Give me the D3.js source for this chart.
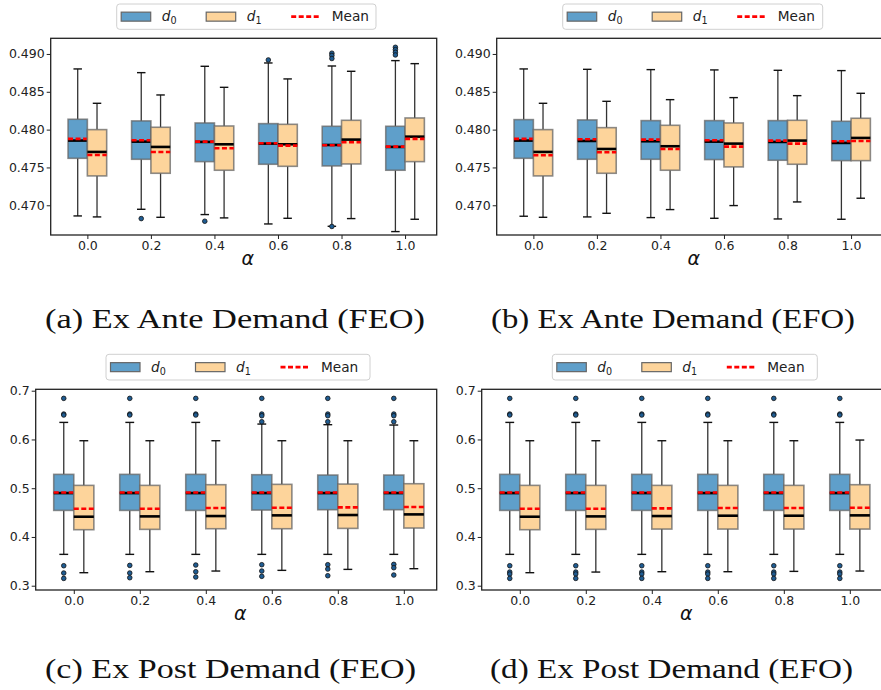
<!DOCTYPE html>
<html>
<head>
<meta charset="utf-8">
<script src="https://cdn.jsdelivr.net/npm/d3@7"></script>
<style>
  html, body { margin: 0; padding: 0; background: #fff; }
  svg { display: block; }
</style>
</head>
<body>
<svg id="chart" width="881" height="690"></svg>
<script>
// ---------------- DATA ----------------
const alphas = [0.0, 0.2, 0.4, 0.6, 0.8, 1.0];
const xTickLabels = ["0.0", "0.2", "0.4", "0.6", "0.8", "1.0"];
const yTicksAnte = [0.470, 0.475, 0.480, 0.485, 0.490];
const yTicksPost = [0.3, 0.4, 0.5, 0.6, 0.7];
const seriesNames = ["d0", "d1"];
const captions = ["(a) Ex Ante Demand (FEO)", "(b) Ex Ante Demand (EFO)",
                  "(c) Ex Post Demand (FEO)", "(d) Ex Post Demand (EFO)"];

// Panel (a) Ex Ante FEO
const aD0WhiskerHi = [0.48802, 0.48753, 0.48837, 0.48881, 0.48841, 0.48912];
const aD0Q3        = [0.48137, 0.48115, 0.48088, 0.48079, 0.48044, 0.48044];
const aD0Median    = [0.47855, 0.47841, 0.47837, 0.47815, 0.47797, 0.47771];
const aD0Mean      = [0.47877, 0.47859, 0.47841, 0.47819, 0.47793, 0.47775];
const aD0Q1        = [0.47621, 0.47608, 0.47577, 0.47542, 0.47520, 0.47463];
const aD0WhiskerLo = [0.46859, 0.46947, 0.46877, 0.46753, 0.46722, 0.46652];
const aD0Outliers  = [[], [0.46824], [0.46789], [0.48921], [0.49010, 0.48980, 0.48940, 0.46720], [0.49088, 0.49057, 0.49022, 0.48987]];
const aD1WhiskerHi = [0.48348, 0.48458, 0.48559, 0.48670, 0.48771, 0.48872];
const aD1Q3        = [0.48000, 0.48031, 0.48048, 0.48070, 0.48123, 0.48154];
const aD1Median    = [0.47705, 0.47771, 0.47806, 0.47806, 0.47868, 0.47907];
const aD1Mean      = [0.47665, 0.47705, 0.47753, 0.47789, 0.47833, 0.47877];
const aD1Q1        = [0.47388, 0.47423, 0.47463, 0.47515, 0.47546, 0.47577];
const aD1WhiskerLo = [0.46846, 0.46841, 0.46833, 0.46828, 0.46824, 0.46815];
const aD1Outliers  = [[], [], [], [], [], []];

// Panel (b) Ex Ante EFO
const bD0WhiskerHi = [0.48802, 0.48797, 0.48793, 0.48789, 0.48784, 0.48780];
const bD0Q3        = [0.48132, 0.48128, 0.48119, 0.48119, 0.48119, 0.48110];
const bD0Median    = [0.47855, 0.47850, 0.47846, 0.47841, 0.47837, 0.47824];
const bD0Mean      = [0.47877, 0.47872, 0.47868, 0.47859, 0.47855, 0.47846];
const bD0Q1        = [0.47621, 0.47608, 0.47608, 0.47604, 0.47595, 0.47590];
const bD0WhiskerLo = [0.46855, 0.46846, 0.46837, 0.46828, 0.46819, 0.46815];
const bD0Outliers  = [[], [], [], [], [], []];
const bD1WhiskerHi = [0.48348, 0.48374, 0.48396, 0.48423, 0.48449, 0.48480];
const bD1Q3        = [0.48000, 0.48026, 0.48057, 0.48088, 0.48123, 0.48150];
const bD1Median    = [0.47705, 0.47744, 0.47780, 0.47815, 0.47855, 0.47890];
const bD1Mean      = [0.47661, 0.47700, 0.47744, 0.47775, 0.47815, 0.47850];
const bD1Q1        = [0.47388, 0.47423, 0.47463, 0.47507, 0.47542, 0.47590];
const bD1WhiskerLo = [0.46841, 0.46894, 0.46943, 0.46996, 0.47044, 0.47093];
const bD1Outliers  = [[], [], [], [], [], []];

// Panel (c) Ex Post FEO
const cD0WhiskerHi = [0.6350, 0.6350, 0.6350, 0.6316, 0.6303, 0.6296];
const cD0Q3        = [0.5284, 0.5284, 0.5284, 0.5277, 0.5270, 0.5270];
const cD0Median    = [0.4900, 0.4900, 0.4900, 0.4900, 0.4900, 0.4900];
const cD0Mean      = [0.4912, 0.4912, 0.4912, 0.4912, 0.4912, 0.4912];
const cD0Q1        = [0.4545, 0.4545, 0.4545, 0.4552, 0.4559, 0.4559];
const cD0WhiskerLo = [0.3643, 0.3643, 0.3643, 0.3643, 0.3643, 0.3643];
const cD0Outliers  = [
  [0.6843, 0.6521, 0.6501, 0.3410, 0.3260, 0.3150],
  [0.6843, 0.6521, 0.6501, 0.3417, 0.3260, 0.3164],
  [0.6843, 0.6521, 0.6501, 0.3424, 0.3287, 0.3178],
  [0.6843, 0.6521, 0.6487, 0.6364, 0.3431, 0.3301, 0.3192],
  [0.6843, 0.6521, 0.6487, 0.6364, 0.3431, 0.3342, 0.3205],
  [0.6843, 0.6521, 0.6487, 0.6364, 0.3438, 0.3369, 0.3219]];
const cD1WhiskerHi = [0.5974, 0.5974, 0.5974, 0.5974, 0.5974, 0.5974];
const cD1Q3        = [0.5058, 0.5058, 0.5072, 0.5079, 0.5085, 0.5092];
const cD1Median    = [0.4415, 0.4422, 0.4429, 0.4443, 0.4450, 0.4463];
const cD1Mean      = [0.4579, 0.4579, 0.4593, 0.4600, 0.4607, 0.4614];
const cD1Q1        = [0.4149, 0.4156, 0.4169, 0.4169, 0.4176, 0.4183];
const cD1WhiskerLo = [0.3267, 0.3287, 0.3301, 0.3315, 0.3335, 0.3349];
const cD1Outliers  = [[], [], [], [], [], []];

// Panel (d) Ex Post EFO
const dD0WhiskerHi = [0.6350, 0.6350, 0.6350, 0.6350, 0.6350, 0.6350];
const dD0Q3        = [0.5284, 0.5284, 0.5284, 0.5284, 0.5284, 0.5284];
const dD0Median    = [0.4900, 0.4900, 0.4900, 0.4900, 0.4900, 0.4900];
const dD0Mean      = [0.4912, 0.4912, 0.4912, 0.4912, 0.4912, 0.4912];
const dD0Q1        = [0.4545, 0.4545, 0.4545, 0.4545, 0.4545, 0.4545];
const dD0WhiskerLo = [0.3643, 0.3643, 0.3643, 0.3643, 0.3643, 0.3643];
const dD0Outliers  = [
  [0.6843, 0.6521, 0.6501, 0.3410, 0.3280, 0.3240, 0.3150],
  [0.6843, 0.6521, 0.6501, 0.3410, 0.3280, 0.3240, 0.3150],
  [0.6843, 0.6521, 0.6501, 0.3410, 0.3280, 0.3240, 0.3150],
  [0.6843, 0.6521, 0.6501, 0.3410, 0.3280, 0.3240, 0.3150],
  [0.6843, 0.6521, 0.6501, 0.3410, 0.3280, 0.3240, 0.3150],
  [0.6843, 0.6521, 0.6501, 0.3410, 0.3280, 0.3240, 0.3150]];
const dD1WhiskerHi = [0.5974, 0.5974, 0.5974, 0.5974, 0.5974, 0.5988];
const dD1Q3        = [0.5058, 0.5058, 0.5058, 0.5058, 0.5058, 0.5072];
const dD1Median    = [0.4415, 0.4422, 0.4429, 0.4436, 0.4436, 0.4443];
const dD1Mean      = [0.4579, 0.4579, 0.4586, 0.4593, 0.4593, 0.4600];
const dD1Q1        = [0.4149, 0.4156, 0.4162, 0.4162, 0.4162, 0.4162];
const dD1WhiskerLo = [0.3267, 0.3280, 0.3287, 0.3287, 0.3294, 0.3301];
const dD1Outliers  = [[], [], [], [], [], []];

// ---------------- STYLE ----------------
const COLORS = { d0: "#5f9fca", d1: "#fdd49b" };
const FONT = "'DejaVu Sans', sans-serif";

function series(wl, q1, med, mean, q3, wh, out) {
  return alphas.map((a, i) => ({ alpha: a, wl: wl[i], q1: q1[i], med: med[i], mean: mean[i], q3: q3[i], wh: wh[i], out: out[i] }));
}

const panels = [
  { left: 50.7, right: 436.7, top: 38.3, bottom: 235, yDomain: [0.46607, 0.49207], yTicks: yTicksAnte, fmt: ".3f",
    legend: [116.7, 4, 259.3, 25.3], caption: captions[0], capX: 45, capY: 328, capW: 380,
    data: [series(aD0WhiskerLo, aD0Q1, aD0Median, aD0Mean, aD0Q3, aD0WhiskerHi, aD0Outliers),
           series(aD1WhiskerLo, aD1Q1, aD1Median, aD1Mean, aD1Q3, aD1WhiskerHi, aD1Outliers)] },
  { left: 496.7, right: 882.7, top: 38.3, bottom: 235, yDomain: [0.46607, 0.49207], yTicks: yTicksAnte, fmt: ".3f",
    legend: [562.7, 4, 260, 25.3], caption: captions[1], capX: 491, capY: 328, capW: 364,
    data: [series(bD0WhiskerLo, bD0Q1, bD0Median, bD0Mean, bD0Q3, bD0WhiskerHi, bD0Outliers),
           series(bD1WhiskerLo, bD1Q1, bD1Median, bD1Mean, bD1Q3, bD1WhiskerHi, bD1Outliers)] },
  { left: 35.7, right: 436.7, top: 389.3, bottom: 590, yDomain: [0.2912, 0.7029], yTicks: yTicksPost, fmt: ".1f",
    legend: [106, 354.3, 264, 25.7], caption: captions[2], capX: 45, capY: 678, capW: 371,
    data: [series(cD0WhiskerLo, cD0Q1, cD0Median, cD0Mean, cD0Q3, cD0WhiskerHi, cD0Outliers),
           series(cD1WhiskerLo, cD1Q1, cD1Median, cD1Mean, cD1Q3, cD1WhiskerHi, cD1Outliers)] },
  { left: 481.7, right: 882.7, top: 389.3, bottom: 590, yDomain: [0.2912, 0.7029], yTicks: yTicksPost, fmt: ".1f",
    legend: [552.3, 354.3, 265, 25.7], caption: captions[3], capX: 490, capY: 678, capW: 363,
    data: [series(dD0WhiskerLo, dD0Q1, dD0Median, dD0Mean, dD0Q3, dD0WhiskerHi, dD0Outliers),
           series(dD1WhiskerLo, dD1Q1, dD1Median, dD1Mean, dD1Q3, dD1WhiskerHi, dD1Outliers)] }
];

const svg = d3.select("#chart");
svg.append("rect").attr("width", 881).attr("height", 690).attr("fill", "#fff");

// alpha domain: first group sits at 9.5% of axis width, last at 91.8%
const X_DOMAIN = [-0.1154, 1.0996];
const BOX_W = 0.0608; // box width in alpha units

function drawPanel(p) {
  const g = svg.append("g");
  const x = d3.scaleLinear().domain(X_DOMAIN).range([p.left, p.right]);
  const y = d3.scaleLinear().domain(p.yDomain).range([p.bottom, p.top]);
  const bw = x(BOX_W) - x(0);

  // axes
  const xAxis = d3.axisBottom(x).tickValues(alphas).tickFormat((d, i) => xTickLabels[i]).tickSize(4).tickPadding(2);
  const yAxis = d3.axisLeft(y).tickValues(p.yTicks).tickFormat(d3.format(p.fmt)).tickSize(4).tickPadding(2);
  const gx = g.append("g").attr("transform", `translate(0,${p.bottom})`).call(xAxis);
  const gy = g.append("g").attr("transform", `translate(${p.left},0)`).call(yAxis);
  [gx, gy].forEach(a => {
    a.select(".domain").remove();
    a.selectAll("line").attr("stroke", "#222").attr("stroke-width", 1);
    a.selectAll("text").attr("font-family", FONT).attr("font-size", 12.5).attr("fill", "#222");
  });

  // boxes
  p.data.forEach((ser, si) => {
    const name = seriesNames[si];
    const off = si === 0 ? -bw : 0;
    const cx = d => x(d.alpha) + off + bw / 2;
    const grp = g.append("g");
    // whiskers
    grp.selectAll(".wl").data(ser).join("line")
      .attr("x1", cx).attr("x2", cx).attr("y1", d => y(d.q1)).attr("y2", d => y(d.wl))
      .attr("stroke", "#333").attr("stroke-width", 1.3);
    grp.selectAll(".wh").data(ser).join("line")
      .attr("x1", cx).attr("x2", cx).attr("y1", d => y(d.q3)).attr("y2", d => y(d.wh))
      .attr("stroke", "#333").attr("stroke-width", 1.3);
    // caps
    const capHalf = bw * 0.22;
    ["wl", "wh"].forEach(k => {
      grp.append("g").selectAll("line").data(ser).join("line")
        .attr("x1", d => cx(d) - capHalf).attr("x2", d => cx(d) + capHalf)
        .attr("y1", d => y(d[k])).attr("y2", d => y(d[k]))
        .attr("stroke", "#111").attr("stroke-width", 1.4);
    });
    // box
    grp.append("g").selectAll("rect").data(ser).join("rect")
      .attr("x", d => x(d.alpha) + off).attr("width", bw)
      .attr("y", d => y(d.q3)).attr("height", d => y(d.q1) - y(d.q3))
      .attr("fill", COLORS[name]).attr("stroke", "#666").attr("stroke-opacity", 0.75).attr("stroke-width", 1.6);
    // median
    grp.append("g").selectAll("line").data(ser).join("line")
      .attr("x1", d => x(d.alpha) + off).attr("x2", d => x(d.alpha) + off + bw)
      .attr("y1", d => y(d.med)).attr("y2", d => y(d.med))
      .attr("stroke", "#000").attr("stroke-width", 2.6);
    // mean
    grp.append("g").selectAll("line").data(ser).join("line")
      .attr("x1", d => x(d.alpha) + off).attr("x2", d => x(d.alpha) + off + bw)
      .attr("y1", d => y(d.mean)).attr("y2", d => y(d.mean))
      .attr("stroke", "#ff0000").attr("stroke-width", 2.6).attr("stroke-dasharray", "5,2.5");
    // outliers
    const pts = ser.flatMap(d => d.out.map(v => ({ x: cx(d), v })));
    grp.append("g").selectAll("circle").data(pts).join("circle")
      .attr("cx", d => d.x).attr("cy", d => y(d.v)).attr("r", 2.3)
      .attr("fill", "#1f5c92").attr("stroke", "#111").attr("stroke-width", 0.8);
  });

  // frame
  g.append("rect").attr("x", p.left).attr("y", p.top).attr("width", p.right - p.left).attr("height", p.bottom - p.top)
    .attr("fill", "none").attr("stroke", "#222").attr("stroke-width", 1.3);

  // x label
  g.append("text").attr("x", (p.left + p.right) / 2 + 4).attr("y", p.bottom + 30)
    .attr("text-anchor", "middle").attr("font-family", FONT).attr("font-style", "italic")
    .attr("font-size", 19).attr("fill", "#111").text("α");

  // legend
  const [lx, ly, lw, lh] = p.legend;
  const lg = g.append("g").attr("transform", `translate(${lx},${ly})`);
  lg.append("rect").attr("x", 0).attr("y", 0).attr("width", lw).attr("height", lh).attr("rx", 3)
    .attr("fill", "#fff").attr("stroke", "#d0d0d0").attr("stroke-width", 1);
  const py = lh / 2 - 4.5;
  [[4.5, "d0", "0"], [89.5, "d1", "1"]].forEach(([ox, name, sub]) => {
    lg.append("rect").attr("x", ox).attr("y", py).attr("width", 29.5).attr("height", 9)
      .attr("fill", COLORS[name]).attr("stroke", "#666").attr("stroke-width", 1.2);
    const t = lg.append("text").attr("x", ox + 40.5).attr("y", lh / 2 + 4.8)
      .attr("font-family", FONT).attr("font-size", 13.7).attr("fill", "#222");
    t.append("tspan").attr("font-style", "italic").text("d");
    t.append("tspan").attr("dy", 3).attr("font-size", 9.6).text(sub);
  });
  lg.append("line").attr("x1", 174.5).attr("x2", 203.5).attr("y1", lh / 2).attr("y2", lh / 2)
    .attr("stroke", "#ff0000").attr("stroke-width", 2.6).attr("stroke-dasharray", "5,2.5");
  lg.append("text").attr("x", 215).attr("y", lh / 2 + 4.8).attr("font-family", FONT)
    .attr("font-size", 13.7).attr("fill", "#222").text("Mean");

  // caption
  svg.append("text").attr("x", p.capX).attr("y", p.capY)
    .attr("font-family", "'Liberation Serif', 'Times New Roman', serif").attr("font-size", 27)
    .attr("textLength", p.capW).attr("lengthAdjust", "spacingAndGlyphs")
    .attr("fill", "#111").text(p.caption);
}

panels.forEach(drawPanel);
</script>
</body>
</html>
